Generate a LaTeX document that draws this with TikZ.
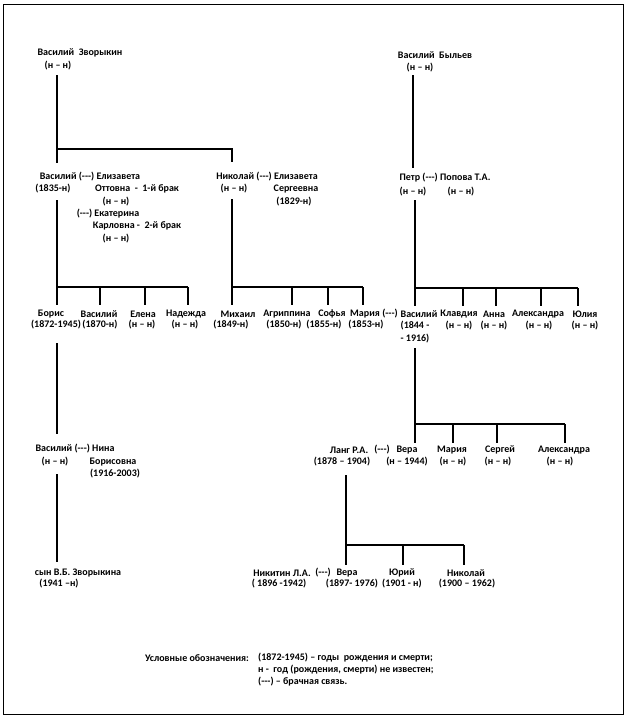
\documentclass[tikz,border=0pt]{standalone}
\usepackage{fontspec}
\setmainfont{Carlito}
\newcommand\mrg{(-{}-{}-)}
\begin{document}
\begin{tikzpicture}[x=1pt,y=-1pt,
  t/.style={font=\fontsize{10}{11}\selectfont\bfseries, inner sep=0pt},
  ln/.style={line width=1.2pt},
  frame/.style={line width=1pt}]
\useasboundingbox (0,0) rectangle (628,720);
\draw[frame] (3,4) rectangle (623,714);

% ---------- Zvorykin family texts ----------
\node[t] (vz)  at (80,53) {Василий\ \ Зворыкин};
\node[t] (vzd) at (58,66) {(н – н)};

\node[t] (v1)   at (90,177) {Василий \mrg{} Елизавета};
\node[t] (v1d)  at (53,189) {(1835-н)};
\node[t] (e1)   at (137,189) {Оттовна\ \ -\ \ 1-й брак};
\node[t] (e1d)  at (116,202) {(н – н)};
\node[t] (e2)   at (108,214) {\mrg{} Екатерина};
\node[t] (e2b)  at (137,226) {Карловна -\ \ 2-й брак};
\node[t] (e2d)  at (116,239) {(н – н)};

\node[t] (n1)   at (267,177) {Николай \mrg{} Елизавета};
\node[t] (n1d)  at (234,189) {(н – н)};
\node[t] (el)   at (296,189) {Сергеевна};
\node[t] (eld)  at (294,202) {(1829-н)};

% children row
\node[t] (c1)  at (51,314)  {Борис};
\node[t] (c1d) at (56,325)  {(1872-1945)};
\node[t] (c2)  at (99,314)  {Василий};
\node[t] (c2d) at (100,325) {(1870-н)};
\node[t] (c3)  at (143,314) {Елена};
\node[t] (c3d) at (142,325) {(н – н)};
\node[t] (c4)  at (186,314) {Надежда};
\node[t] (c4d) at (185,325) {(н – н)};
\node[t] (c5)  at (238,314) {Михаил};
\node[t] (c5d) at (231,325) {(1849-н)};
\node[t] (c6)  at (287,314) {Агриппина};
\node[t] (c6d) at (284,325) {(1850-н)};
\node[t] (c7)  at (332,314) {Софья};
\node[t] (c7d) at (324,325) {(1855-н)};
\node[t] (c8)  at (365,314) {Мария};
\node[t] (c8d) at (366,325) {(1853-н)};
\node[t] (m8)  at (390,314) {\mrg};

% Bylyev family
\node[t] (vb)  at (435,55) {Василий\ \ Быльев};
\node[t] (vbd) at (420,68) {(н – н)};
\node[t] (pt)  at (445,178) {Петр \mrg{} Попова Т.А.};
\node[t] (ptd) at (413,192) {(н – н)};
\node[t] (pod) at (461,192) {(н – н)};

\node[t] (d1)  at (419,314) {Василий};
\node[t] (d1d) at (415,326) {(1844 -};
\node[t] (d1e) at (415,339) {- 1916)};
\node[t] (d2)  at (459,314) {Клавдия};
\node[t] (d2d) at (459,326) {(н – н)};
\node[t] (d3)  at (494,314) {Анна};
\node[t] (d3d) at (494,326) {(н – н)};
\node[t] (d4)  at (538,314) {Александра};
\node[t] (d4d) at (539,326) {(н – н)};
\node[t] (d5)  at (585,314) {Юлия};
\node[t] (d5d) at (585,326) {(н – н)};

% Vasily Bylyev children
\node[t] (lg)  at (349,450) {Ланг Р.А.};
\node[t] (lgm) at (382,450) {\mrg};
\node[t] (lgd) at (342,462) {(1878 – 1904)};
\node[t] (f1)  at (407,450) {Вера};
\node[t] (f1d) at (407,462) {(н – 1944)};
\node[t] (f2)  at (452,450) {Мария};
\node[t] (f2d) at (453,462) {(н – н)};
\node[t] (f3)  at (500,450) {Сергей};
\node[t] (f3d) at (498,462) {(н – н)};
\node[t] (f4)  at (564,450) {Александра};
\node[t] (f4d) at (560,462) {(н – н)};

% Lang children
\node[t] (nk)  at (282,573) {Никитин Л.А.};
\node[t] (nkm) at (323,573) {\mrg};
\node[t] (nkd) at (279,584) {( 1896 -1942)};
\node[t] (h1)  at (347,573) {Вера};
\node[t] (h1d) at (352,584) {(1897- 1976)};
\node[t] (h2)  at (402,573) {Юрий};
\node[t] (h2d) at (402,584) {(1901 - н)};
\node[t] (h3)  at (466,573) {Николай};
\node[t] (h3d) at (467,584) {(1900 – 1962)};

% Boris line
\node[t] (bv)  at (75,449)  {Василий \mrg{} Нина};
\node[t] (bvd) at (55,462)  {(н – н)};
\node[t] (nb)  at (113,462) {Борисовна};
\node[t] (nbd) at (115,474) {(1916-2003)};
\node[t] (sn)  at (78,573)  {сын В.Б. Зворыкина};
\node[t] (snd) at (59,584)  {(1941 –н)};

% legend
\node[t] (lgh) at (197,658) {Условные обозначения:};
\node[t,anchor=west] (lg1) at (258,658) {(1872-1945) – годы\ \ рождения и смерти;};
\node[t,anchor=west] (lg2) at (258,670) {н -\ \ год (рождения, смерти) не известен;};
\node[t,anchor=west] (lg3) at (258,682) {\mrg{} – брачная связь.};

% ---------- connectors ----------
\coordinate (g1a) at (57,75);
\coordinate (g1b) at (57,149);
\coordinate (g1c) at (57,163);
\coordinate (g1d) at (232,149);
\coordinate (g1e) at (232,162);
\draw[ln] (g1a) -- (g1c);
\draw[ln] (g1b) -- (g1d) -- (g1e);

\coordinate (g2a) at (57,200);
\coordinate (g2b) at (57,287);
\coordinate (g2c) at (188,287);
\draw[ln] (g2a) -- (g2b) -- (g2c);
\foreach \x [count=\i] in {57,100,145,188}{
  \coordinate (ka\i) at (\x,287); \coordinate (kb\i) at (\x,305);
  \draw[ln] (ka\i) -- (kb\i);}

\coordinate (g3a) at (232,199);
\coordinate (g3b) at (232,287);
\coordinate (g3c) at (363,287);
\draw[ln] (g3a) -- (g3b) -- (g3c);
\foreach \x [count=\i] in {232,292,328,363}{
  \coordinate (la\i) at (\x,287); \coordinate (lb\i) at (\x,305);
  \draw[ln] (la\i) -- (lb\i);}

\coordinate (p1a) at (413,75);
\coordinate (p1b) at (413,168);
\draw[ln] (p1a) -- (p1b);

\coordinate (p2a) at (415,200);
\coordinate (p2b) at (415,288);
\coordinate (p2c) at (578,288);
\draw[ln] (p2a) -- (p2b) -- (p2c);
\foreach \x [count=\i] in {415,463,496,541,578}{
  \coordinate (ma\i) at (\x,288); \coordinate (mb\i) at (\x,306);
  \draw[ln] (ma\i) -- (mb\i);}

\coordinate (p3a) at (415,348);
\coordinate (p3b) at (415,424);
\coordinate (p3c) at (565,424);
\draw[ln] (p3a) -- (p3b) -- (p3c);
\foreach \x [count=\i] in {415,453,497,565}{
  \coordinate (na\i) at (\x,424); \coordinate (nb\i) at (\x,443);
  \draw[ln] (na\i) -- (nb\i);}

\coordinate (p4a) at (346,475);
\coordinate (p4b) at (346,545);
\coordinate (p4c) at (464,545);
\draw[ln] (p4a) -- (p4b) -- (p4c);
\foreach \x [count=\i] in {346,403,464}{
  \coordinate (oa\i) at (\x,545); \coordinate (ob\i) at (\x,565);
  \draw[ln] (oa\i) -- (ob\i);}

\coordinate (b1a) at (57,343);
\coordinate (b1b) at (57,434);
\draw[ln] (b1a) -- (b1b);
\coordinate (b2a) at (57,474);
\coordinate (b2b) at (57,562);
\draw[ln] (b2a) -- (b2b);
\end{tikzpicture}
\end{document}
